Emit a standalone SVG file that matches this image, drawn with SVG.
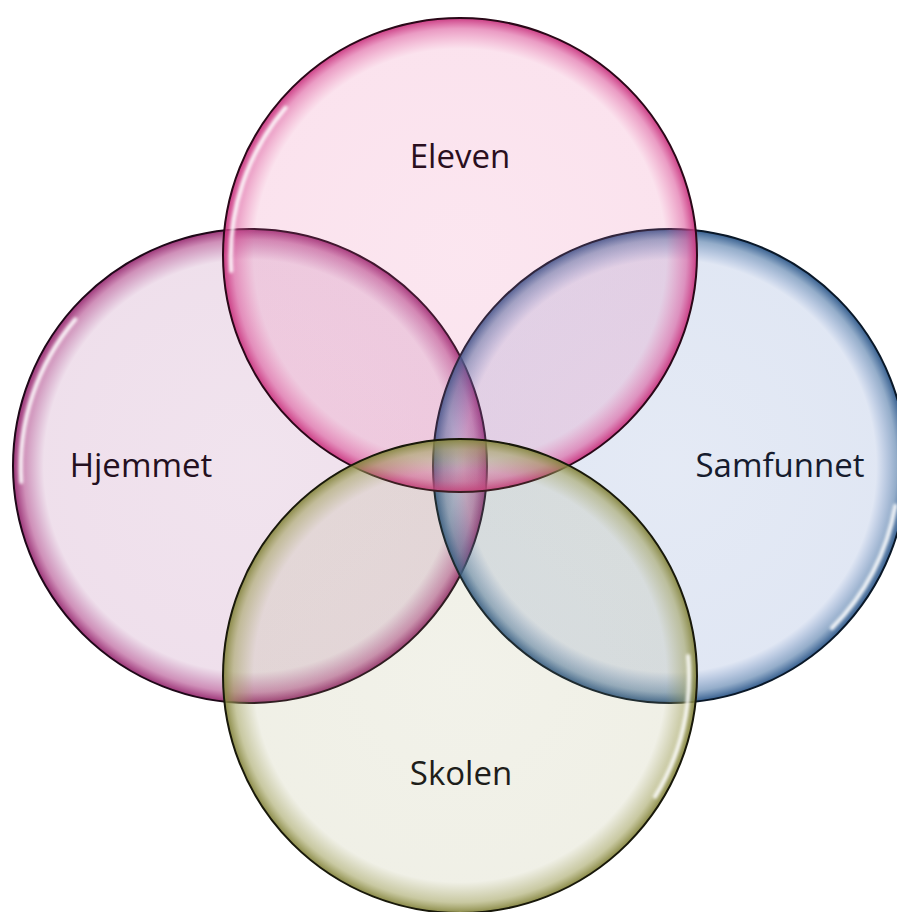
<svg xmlns="http://www.w3.org/2000/svg" width="897" height="912" viewBox="0 0 897 912">
<defs>
<radialGradient id="gE" cx="0.5" cy="0.5" r="0.5">
<stop offset="0" stop-color="#e8629f" stop-opacity="0.16"/>
<stop offset="0.87" stop-color="#e8629f" stop-opacity="0.18"/>
<stop offset="0.955" stop-color="#d94a93" stop-opacity="0.55"/>
<stop offset="1" stop-color="#c8347e" stop-opacity="0.95"/>
</radialGradient>
<radialGradient id="gH" cx="0.5" cy="0.5" r="0.5">
<stop offset="0" stop-color="#9a3a86" stop-opacity="0.14"/>
<stop offset="0.87" stop-color="#9a3a86" stop-opacity="0.16"/>
<stop offset="0.955" stop-color="#a8357f" stop-opacity="0.55"/>
<stop offset="1" stop-color="#962a70" stop-opacity="0.95"/>
</radialGradient>
<radialGradient id="gS" cx="0.5" cy="0.5" r="0.5">
<stop offset="0" stop-color="#4068b8" stop-opacity="0.14"/>
<stop offset="0.87" stop-color="#4068b8" stop-opacity="0.16"/>
<stop offset="0.955" stop-color="#3d6a9e" stop-opacity="0.55"/>
<stop offset="1" stop-color="#2c5688" stop-opacity="0.95"/>
</radialGradient>
<radialGradient id="gK" cx="0.5" cy="0.5" r="0.5">
<stop offset="0" stop-color="#9a9a5a" stop-opacity="0.13"/>
<stop offset="0.87" stop-color="#9a9a5a" stop-opacity="0.15"/>
<stop offset="0.955" stop-color="#9c9c55" stop-opacity="0.55"/>
<stop offset="1" stop-color="#84843e" stop-opacity="0.95"/>
</radialGradient>
<filter id="blur" x="-20%" y="-20%" width="140%" height="140%">
<feGaussianBlur stdDeviation="1.4"/>
</filter>
</defs>
<style>
.c{stroke-width:2}
.hl{fill:none;stroke:#ffffff;stroke-width:4;stroke-linecap:round;opacity:0.9;filter:url(#blur)}
.t{font-family:"Open Sans","Noto Sans","Liberation Sans",sans-serif;font-size:33px;text-anchor:middle}
</style>
<g id="hjemmet">
<circle class="c" cx="250" cy="466" r="237" fill="url(#gH)" stroke="#1e0818"/>
<path class="hl" d="M75.4,319.4 A229,229 0 0 0 21.3,482.0"/>
</g>
<g id="samfunnet">
<circle class="c" cx="670" cy="466" r="237" fill="url(#gS)" stroke="#0a1828"/>
<path class="hl" d="M895.2,505.8 A229,229 0 0 1 831.9,628.0"/>
</g>
<g id="eleven">
<circle class="c" cx="460" cy="255" r="237" fill="url(#gE)" stroke="#2a0818"/>
<path class="hl" d="M285.6,107.8 A229,229 0 0 0 231.3,271.0"/>
</g>
<g id="skolen">
<circle class="c" cx="460" cy="676" r="237" fill="url(#gK)" stroke="#18180a"/>
<path class="hl" d="M688.1,656.0 A229,229 0 0 1 655.0,796.6"/>
</g>
<g id="labels">
<text class="t" x="460" y="168" fill="#2a0f1e">Eleven</text>
<text class="t" x="141" y="477" fill="#24101f">Hjemmet</text>
<text class="t" x="780" y="477" fill="#161c2e">Samfunnet</text>
<text class="t" x="461" y="785" fill="#1e1e1a">Skolen</text>
</g>
</svg>
